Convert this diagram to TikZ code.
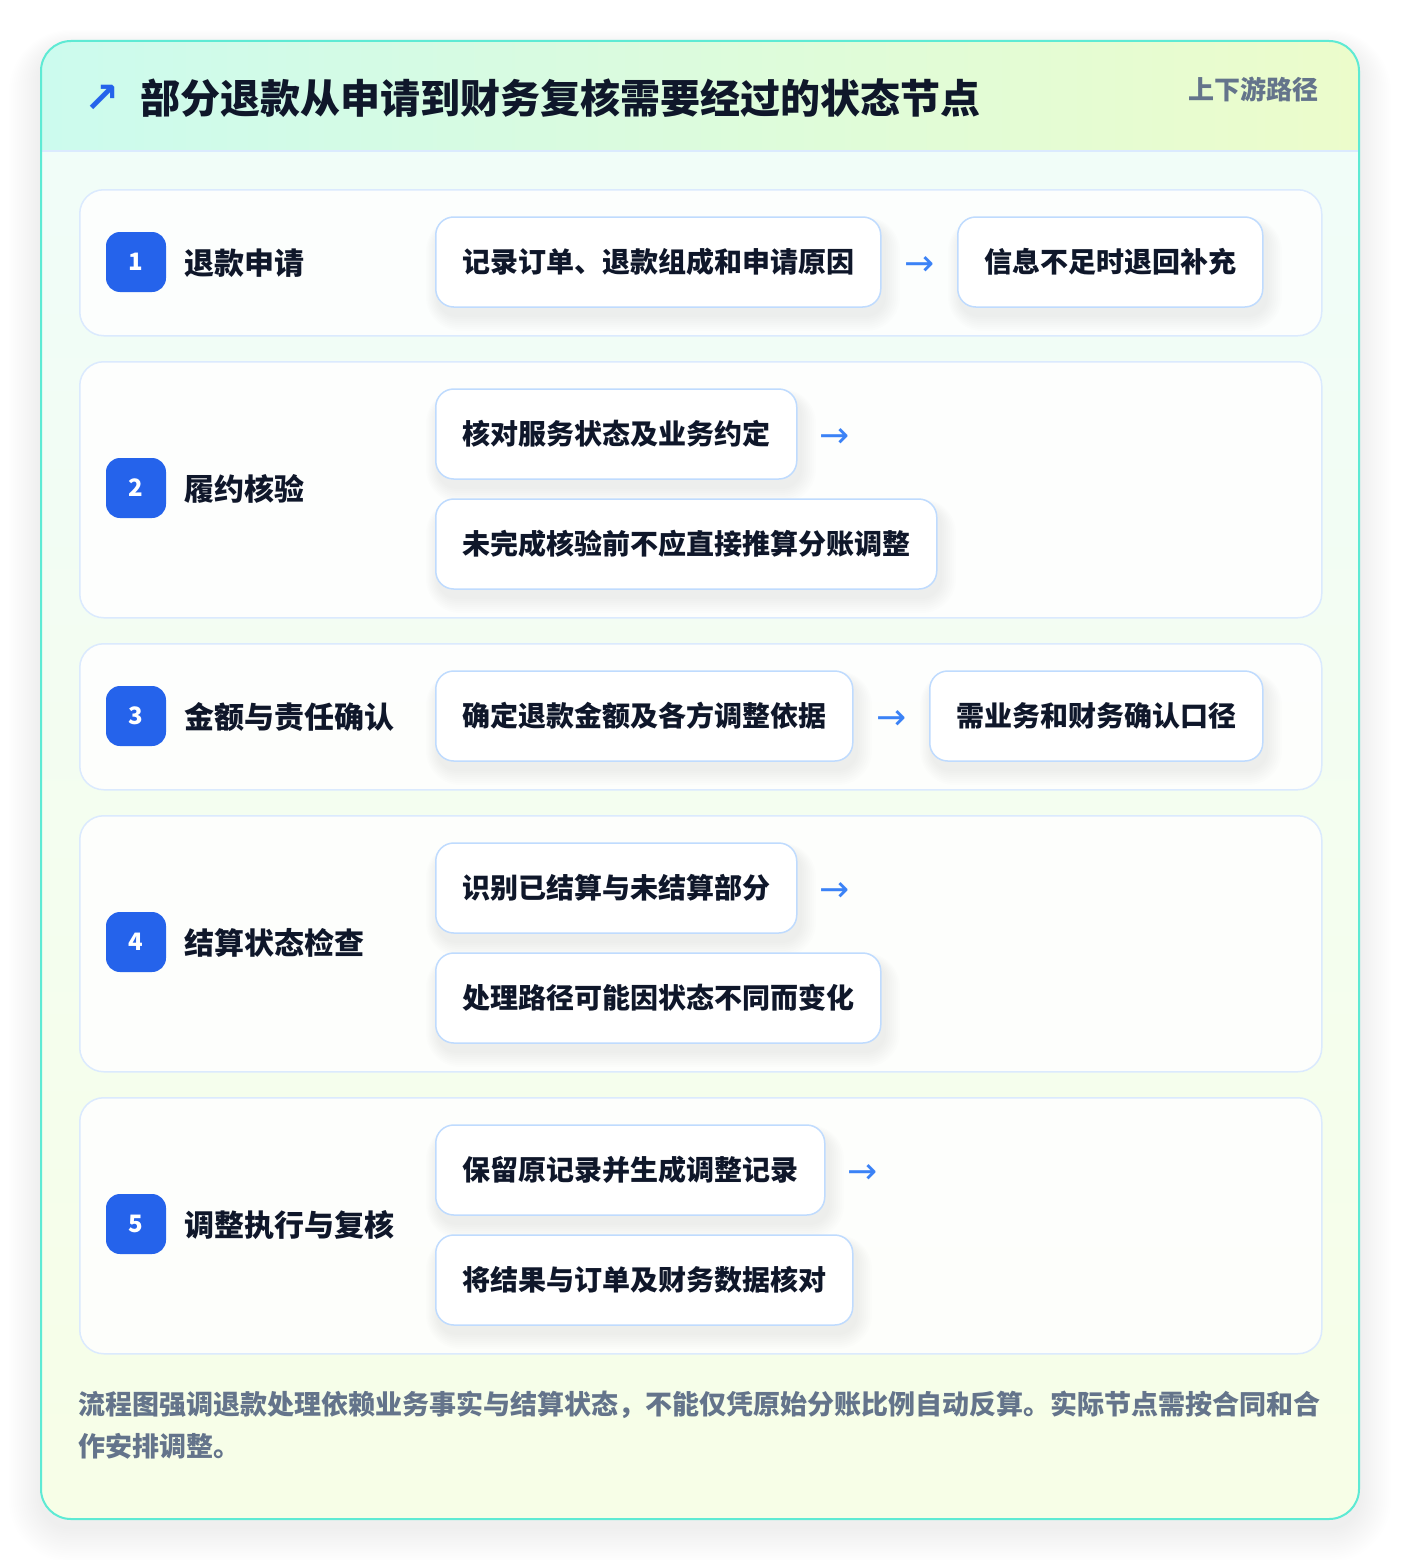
\documentclass[tikz,border=0pt]{standalone}
\usepackage{fontspec}
\setmainfont{Noto Sans CJK SC}
\newfontfamily\dejavu{DejaVu Sans}
\definecolor{badgeblue}{HTML}{2563EB}
\definecolor{arrowblue}{HTML}{3B82F6}
\definecolor{darktext}{HTML}{0F172A}
\definecolor{graytext}{HTML}{64748B}
\definecolor{cardteal}{HTML}{5EEAD4}
\definecolor{rowborder}{HTML}{DBEAFE}
\definecolor{itemborder}{HTML}{BFDBFE}
\definecolor{hdrL}{HTML}{CCFBEE}
\definecolor{hdrR}{HTML}{ECFCCB}
\definecolor{bodyT}{HTML}{F0FDFA}
\definecolor{bodyB}{HTML}{F7FEE7}
\begin{document}
\begin{tikzpicture}[x=1pt,y=-1pt,
  rowcard/.style={draw=rowborder, line width=1.5pt, rounded corners=24pt, fill=white, fill opacity=0.85, draw opacity=1, minimum width=1242pt, anchor=north west, inner sep=0pt},
  badge/.style={fill=badgeblue, rounded corners=14pt, minimum size=60pt, inner sep=0pt, text=white, font=\fontsize{24}{28}\selectfont\bfseries},
  steplabel/.style={anchor=west, inner sep=0pt, text=darktext, font=\fontsize{30}{36}\selectfont\bfseries},
  itembox/.style={anchor=west, draw=itemborder, line width=1.5pt, rounded corners=18pt, fill=white, minimum height=90pt, inner xsep=26.5pt, inner ysep=0pt, text=darktext, font=\fontsize{28}{34}\selectfont\bfseries},
  arrowtxt/.style={inner sep=0pt, text=arrowblue, font=\dejavu\fontsize{36}{40}\selectfont},
  itemshadow/.style={fill=black, opacity=0.008}
]
\useasboundingbox[fill=white] (0,0) rectangle (1400,1560);
% outer soft shadow
\foreach \i in {1,...,16}{
  \pgfmathsetmacro\r{30+\i*2}
  \fill[black, opacity=0.0045, rounded corners=\r pt] ({41-\i*2},{41-\i*1.2+8}) rectangle ({1359+\i*2},{1519+\i*2.2+8});
}
% card body
\path[rounded corners=30pt, top color=bodyT, bottom color=bodyB] (41,41) rectangle (1359,1519);
\begin{scope}
  \clip[rounded corners=30pt] (41,41) rectangle (1359,1519);
  \fill[left color=hdrL, right color=hdrR] (41,41) rectangle (1359,151);
\end{scope}
\draw[rowborder, line width=1.5pt] (41,151) -- (1359,151);
\draw[cardteal, line width=2pt, rounded corners=30pt] (41,41) rectangle (1359,1519);

% header
\node[text=badgeblue, font=\dejavu\bfseries\fontsize{42}{46}\selectfont, inner sep=0pt] (icon) at (102,99) {↗};
\node[anchor=west, inner sep=0pt, text=darktext, font=\fontsize{40}{48}\selectfont\bfseries] (title) at (140,98) {部分退款从申请到财务复核需要经过的状态节点};
\node[anchor=east, inner sep=0pt, text=graytext, font=\fontsize{26}{30}\selectfont\bfseries] (tag) at (1319,89) {上下游路径};

% row cards
\node[rowcard, minimum height=146pt] (row1) at (79,189) {};
\node[rowcard, minimum height=256pt] (row2) at (79,361) {};
\node[rowcard, minimum height=146pt] (row3) at (79,643) {};
\node[rowcard, minimum height=256pt] (row4) at (79,815) {};
\node[rowcard, minimum height=256pt] (row5) at (79,1097) {};

% item soft shadows
\foreach \a/\b/\c/\d in {435/217/881/307, 957/217/1263/307, 435/389/797/479, 435/499/937/589, 435/671/853/761, 929/671/1263/761, 435/843/797/933, 435/953/881/1043, 435/1125/825/1215, 435/1235/853/1325}{
  \foreach \k in {1,...,8}{
    \pgfmathsetmacro\rr{18+\k*2}
    \fill[itemshadow, rounded corners=\rr pt] ({\a-\k*1.5+3},{\b-\k*1+8}) rectangle ({\c+\k*2+3},{\d+\k*2+8});
  }
}

% row 1
\node[badge] (b1) at (136,262) {1};
\node[steplabel] (l1) at (184,263) {退款申请};
\node[itembox] (i11) at (435,262) {记录订单、退款组成和申请原因};
\node[arrowtxt] (a1) at (920,266) {→};
\node[itembox] (i12) at (957,262) {信息不足时退回补充};

% row 2
\node[badge] (b2) at (136,488) {2};
\node[steplabel] (l2) at (184,489) {履约核验};
\node[itembox] (i21) at (435,434) {核对服务状态及业务约定};
\node[arrowtxt] (a2) at (835,438) {→};
\node[itembox] (i22) at (435,544) {未完成核验前不应直接推算分账调整};

% row 3
\node[badge] (b3) at (136,716) {3};
\node[steplabel] (l3) at (184,717) {金额与责任确认};
\node[itembox] (i31) at (435,716) {确定退款金额及各方调整依据};
\node[arrowtxt] (a3) at (892,720) {→};
\node[itembox] (i32) at (929,716) {需业务和财务确认口径};

% row 4
\node[badge] (b4) at (136,942) {4};
\node[steplabel] (l4) at (184,943) {结算状态检查};
\node[itembox] (i41) at (435,888) {识别已结算与未结算部分};
\node[arrowtxt] (a4) at (835,892) {→};
\node[itembox] (i42) at (435,998) {处理路径可能因状态不同而变化};

% row 5
\node[badge] (b5) at (136,1224) {5};
\node[steplabel] (l5) at (184,1225) {调整执行与复核};
\node[itembox] (i51) at (435,1170) {保留原记录并生成调整记录};
\node[arrowtxt] (a5) at (863,1174) {→};
\node[itembox] (i52) at (435,1280) {将结果与订单及财务数据核对};

% footer
\node[anchor=west, inner sep=0pt, text=graytext, font=\fontsize{27}{32}\selectfont\bfseries] (foot1) at (78,1405) {流程图强调退款处理依赖业务事实与结算状态，不能仅凭原始分账比例自动反算。实际节点需按合同和合};
\node[anchor=west, inner sep=0pt, text=graytext, font=\fontsize{27}{32}\selectfont\bfseries] (foot2) at (78,1446) {作安排调整。};
\end{tikzpicture}
\end{document}
